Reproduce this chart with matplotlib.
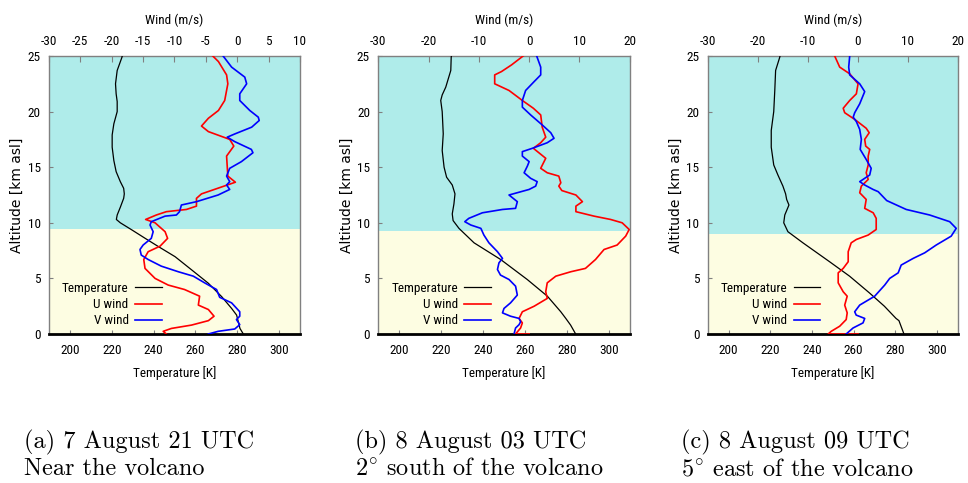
import matplotlib
matplotlib.use("Agg")
import matplotlib.pyplot as plt
from matplotlib import font_manager as fm

# ---------------------------------------------------------------------------
# Radiosonde-style profiles: altitude (km asl) paired with the value at that level
# ---------------------------------------------------------------------------

# (a) 7 August 21 UTC
alt_temp_a = [25, 24.9, 23.7, 22.5, 21.6, 20.9, 20.0, 18.9, 17.9, 16.8, 15.6, 14.6, 13.7, 13.1,
              12.6, 12.2, 11.4, 10.7, 10.3, 10.0, 9.35, 8.6, 7.85, 6.95, 5.75, 4.56, 3.35, 2.3,
              1.7, 1.1, 0.5, 0]
temp_a = [225.0, 224.9, 222.6, 221.8, 222.1, 222.6, 222.6, 221.0, 220.2, 220.2, 221.0, 222.1,
          224.1, 225.7, 226.0, 225.7, 224.1, 222.6, 222.2, 224.1, 229.7, 236.0, 242.4, 250.3,
          258.3, 266.2, 272.6, 277.3, 279.7, 280.5, 281.3, 282.9]
alt_u_a = [25, 24.5, 23.3, 22.5, 21.0, 20.1, 19.4, 18.7, 18.2, 17.5, 16.9, 16.0, 14.2, 13.65,
           12.6, 12.2, 11.5, 11.2, 11.0, 10.7, 10.3, 10.0, 9.2, 8.6, 7.9, 7.4, 6.7, 5.9, 5.0,
           4.4, 4.0, 3.4, 2.6, 2.2, 1.6, 1.2, 0.8, 0.5, 0.24, 0]
u_a = [-3.9, -3.0, -1.7, -1.5, -2.0, -3.0, -4.6, -5.7, -4.6, -1.2, -0.55, -1.7, -1.5, -0.3,
       -5.7, -6.5, -6.5, -8.1, -11.3, -12.9, -14.6, -13.1, -11.5, -11.1, -12.3, -14.2, -14.9,
       -14.7, -13.1, -11.0, -8.4, -6.0, -6.2, -4.6, -3.7, -4.6, -7.3, -10.5, -11.8, -11.3]
alt_v_a = [25, 24.0, 23.1, 22.5, 21.6, 21.0, 20.1, 19.5, 19.2, 18.6, 18.0, 17.7, 17.3, 16.6,
           16.3, 15.5, 14.9, 14.2, 13.7, 13.4, 13.0, 12.5, 11.9, 11.6, 11.0, 10.7, 10.6, 10.1,
           9.8, 9.2, 8.6, 8.0, 7.6, 7.1, 6.7, 6.1, 5.6, 5.2, 4.6, 4.0, 3.3, 2.8, 2.0, 1.6, 1.3,
           0.84, 0.45, 0.24, 0]
v_a = [-2.25, -0.9, 1.2, 1.5, 0.4, 0.4, 2.0, 3.35, 3.5, 2.3, -0.35, -1.6, -0.4, 2.25, 2.5,
       0.66, -1.2, -1.7, -1.2, -1.7, -1.2, -3.05, -6.5, -8.9, -9.2, -9.7, -11.5, -13.7, -13.9,
       -13.4, -13.7, -15.0, -15.5, -15.3, -14.2, -12.1, -9.4, -7.0, -5.2, -3.3, -2.8, -0.9,
       0.4, 0.4, -0.13, 0.4, -0.4, -3.05, -4.6]

# (b) 8 August 03 UTC
alt_temp_b = [25, 24.9, 23.7, 22.2, 21.5, 21.0, 20.0, 18.0, 16.5, 15.0, 14.1, 13.4, 12.6, 11.7,
              10.8, 10.2, 9.5, 8.2, 6.7, 4.9, 3.4, 2.0, 1.4, 0.8, 0]
temp_b = [224.9, 224.8, 224.6, 222.2, 220.5, 219.8, 220.5, 221.0, 220.5, 221.4, 222.6, 225.3,
          226.6, 226.1, 225.3, 225.7, 228.5, 235.7, 248.4, 261.1, 270.7, 277.1, 279.5, 281.8,
          284.2]
alt_u_b = [25, 24.2, 23.6, 23.3, 22.5, 21.9, 21.0, 20.3, 19.7, 18.6, 17.7, 17.2, 16.7, 15.8,
           14.9, 14.5, 14.2, 13.6, 13.3, 12.9, 12.5, 11.9, 11.5, 11.0, 10.6, 10.3, 10.0, 9.4,
           8.8, 8.0, 7.6, 6.7, 5.9, 5.6, 5.2, 4.6, 3.8, 3.2, 2.5, 2.0, 1.4, 1.0, 0.54, 0, 0]
u_b = [-1.2, -3.5, -5.5, -6.85, -6.85, -4.0, -1.35, 0.84, 2.3, 2.6, 3.3, 2.3, 0.84, 3.3, 2.3,
       3.6, 5.9, 6.3, 5.9, 6.5, 9.3, 10.6, 9.3, 9.3, 12.9, 16.2, 18.5, 19.9, 19.2, 17.5, 14.9,
       13.2, 11.2, 8.3, 5.3, 3.6, 3.3, 3.6, 1.0, -1.35, -2.0, -1.35, -1.7, -2.7, 0.0]
alt_v_b = [25, 24.0, 23.3, 22.7, 21.9, 21.0, 20.4, 19.7, 18.8, 18.1, 17.6, 17.2, 16.7, 16.4,
           16.0, 15.5, 15.1, 14.5, 14.0, 13.7, 13.3, 13.0, 12.5, 11.9, 11.3, 11.2, 10.9, 10.4,
           10.1, 9.8, 9.5, 8.9, 8.2, 7.4, 6.8, 6.4, 5.8, 5.3, 4.9, 4.3, 3.5, 2.8, 2.3, 1.9, 1.6,
           1.4, 1.1, 0.84, 0.54, 0]
v_b = [1.5, 2.3, 2.3, 1.0, -0.7, -1.35, -1.35, 0.3, 2.6, 4.3, 4.95, 3.6, 0.64, -1.35, -1.35,
       0.0, -0.35, -1.0, 0.3, 1.6, 1.3, 0.0, -4.0, -2.35, -2.7, -5.3, -9.3, -12.0, -12.8, -11.6,
       -9.6, -9.0, -8.0, -6.3, -5.3, -6.0, -6.3, -5.7, -4.0, -2.7, -2.35, -3.7, -5.0, -5.3,
       -3.7, -2.0, -1.7, -2.0, -2.7, -3.0]

# (c) 8 August 09 UTC
alt_temp_c = [25, 24.9, 23.7, 21.9, 20.0, 18.3, 16.8, 15.2, 14.3, 13.3, 12.6, 12.1, 11.6, 10.7,
              10.0, 9.2, 8.2, 6.5, 5.2, 3.7, 2.5, 1.4, 1.2, 0.7, 0]
temp_c = [224.7, 224.6, 222.6, 222.2, 221.7, 220.5, 220.5, 221.7, 223.7, 226.1, 227.4, 227.9,
          229.0, 227.0, 226.5, 228.5, 235.7, 248.5, 258.1, 267.6, 274.8, 280.4, 281.8, 282.8,
          284.2]
alt_u_c = [25, 24.0, 23.4, 22.5, 21.6, 21.0, 20.3, 19.9, 19.3, 18.5, 18.1, 17.5, 16.9, 16.6,
           16.0, 15.2, 14.5, 13.9, 13.3, 12.7, 12.1, 11.3, 10.9, 10.4, 9.4, 8.9, 8.5, 8.2, 7.4,
           6.5, 5.9, 5.5, 4.6, 3.8, 3.4, 2.6, 1.9, 1.3, 0.7, 0.24, 0, 0]
u_c = [-4.6, -3.6, -1.6, 0.07, -0.27, -1.6, -2.9, -2.6, -0.6, 1.7, 2.3, 1.4, 1.6, 2.4, 2.1,
       2.1, 1.7, 2.1, 0.73, 0.4, 1.7, 1.4, 3.1, 3.7, 3.7, 2.1, -0.27, -1.3, -1.9, -1.9, -2.9,
       -3.9, -3.9, -2.9, -2.1, -2.6, -2.1, -2.3, -3.6, -5.3, -5.9, 0.07]
alt_v_c = [25, 24.0, 23.3, 22.5, 21.8, 20.7, 19.9, 19.5, 19.1, 18.4, 17.5, 16.6, 15.7, 14.9,
           14.3, 13.7, 13.4, 13.0, 12.8, 12.0, 11.2, 10.7, 10.1, 9.5, 8.8, 8.0, 7.3, 6.8, 6.2,
           5.5, 5.0, 4.4, 3.4, 2.6, 2.0, 1.7, 1.4, 1.0, 0.54, 0]
v_c = [-1.6, -1.8, -1.6, 0.4, 1.4, 0.4, -0.6, -0.9, -0.27, 0.4, 0.73, 0.5, 1.7, 2.7, 2.4, 0.4,
       1.4, 3.07, 4.1, 5.8, 9.7, 14.4, 18.4, 19.7, 18.7, 15.7, 13.4, 11.1, 8.7, 8.1, 6.4, 5.4,
       3.4, 0.4, -0.6, -0.3, 1.4, 1.07, -0.93, -2.3]

# Tropopause height (km) separating the shaded layers, per sounding
tropopause = [9.45, 9.3, 8.95]

# Axis ranges and ticks
alt_range = (0, 25)
temp_range = (190, 310)
temp_ticks = [200, 220, 240, 260, 280, 300]
wind_ranges = [(-30, 10), (-30, 20), (-30, 20)]
wind_ticks = [list(range(-30, 11, 5)), list(range(-30, 21, 10)), list(range(-30, 21, 10))]
alt_ticks = [0, 5, 10, 15, 20, 25]

captions = [
    ("(a) 7 August 21 UTC", "Near the volcano"),
    ("(b) 8 August 03 UTC", r"$2^{\circ}$ south of the volcano"),
    ("(c) 8 August 09 UTC", r"$5^{\circ}$ east of the volcano"),
]

series = [
    (alt_temp_a, temp_a, alt_u_a, u_a, alt_v_a, v_a),
    (alt_temp_b, temp_b, alt_u_b, u_b, alt_v_b, v_b),
    (alt_temp_c, temp_c, alt_u_c, u_c, alt_v_c, v_c),
]

# ---------------------------------------------------------------------------
# Fonts
# ---------------------------------------------------------------------------
installed = {f.name for f in fm.fontManager.ttflist}
narrow = next((n for n in ["Liberation Sans Narrow", "Roboto Condensed", "DejaVu Sans Condensed",
                           "Liberation Sans"] if n in installed), "DejaVu Sans")
plt.rcParams["font.family"] = [narrow, "DejaVu Sans"]
plt.rcParams["axes.unicode_minus"] = False
plt.rcParams["mathtext.fontset"] = "cm"

TICK_FS = 9.5
CYAN = "#afecea"
CREAM = "#fdfde2"
FRAME = "#808080"

fig = plt.figure(figsize=(9.68, 4.83), dpi=100)

lefts = [49, 378.3, 707.7]
widths = [251, 251.4, 250]
caption_x = [24, 355, 681]
W, H = 968.0, 483.0
bottom_px, top_px = 334, 56

for i in range(3):
    at, tt, au, uu, av, vv = series[i]
    ax = fig.add_axes([lefts[i] / W, (H - bottom_px) / H, widths[i] / W, (bottom_px - top_px) / H])
    ax.set_xlim(*temp_range)
    ax.set_ylim(*alt_range)
    ax.axhspan(alt_range[0], tropopause[i], color=CREAM, zorder=0, lw=0)
    ax.axhspan(tropopause[i], alt_range[1], color=CYAN, zorder=0, lw=0)

    ax2 = ax.twiny()
    ax2.set_xlim(*wind_ranges[i])
    ax2.set_ylim(*alt_range)

    lt, = ax.plot(tt, at, color="black", lw=0.9, label="Temperature", zorder=3)
    lu, = ax2.plot(uu, au, color="#ff0000", lw=1.2, label="U wind", zorder=3)
    lv, = ax2.plot(vv, av, color="#0000ff", lw=1.2, label="V wind", zorder=3)

    for sp in ax2.spines.values():
        sp.set_visible(False)
    for name, sp in ax.spines.items():
        sp.set_color(FRAME)
        sp.set_linewidth(1.0)
    ax.spines["bottom"].set_color("black")
    ax.spines["bottom"].set_linewidth(2.0)

    ax.set_xticks(temp_ticks)
    ax.set_yticks(alt_ticks)
    ax.tick_params(axis="x", direction="in", length=3, color=FRAME, labelsize=TICK_FS, pad=7)
    ax.tick_params(axis="y", direction="in", length=3, color=FRAME, labelsize=TICK_FS, pad=6,
                   right=False)
    ax2.set_xticks(wind_ticks[i])
    ax2.tick_params(axis="x", direction="in", length=4, color=FRAME, labelsize=TICK_FS, pad=6)

    ax.set_xlabel("Temperature [K]", fontsize=TICK_FS, labelpad=7)
    ax2.set_xlabel("Wind (m/s)", fontsize=TICK_FS, labelpad=8)
    ax.set_ylabel("Altitude [km asl]", fontsize=10, family="DejaVu Sans", labelpad=2.5)

    ax2.legend(handles=[lt, lu, lv], loc="lower left", bbox_to_anchor=(0.02, -0.005),
               frameon=False, markerfirst=False, fontsize=TICK_FS, handlelength=2.0,
               handletextpad=0.5, labelspacing=0.25, borderaxespad=0.2)

    l1, l2 = captions[i]
    fig.text(caption_x[i] / W, 1 - 448 / H, l1, family="cmr10", fontsize=17.5, va="baseline")
    fig.text(caption_x[i] / W, 1 - 475 / H, l2, family="cmr10", fontsize=17.5, va="baseline")

fig.savefig("out.png", dpi=100)
